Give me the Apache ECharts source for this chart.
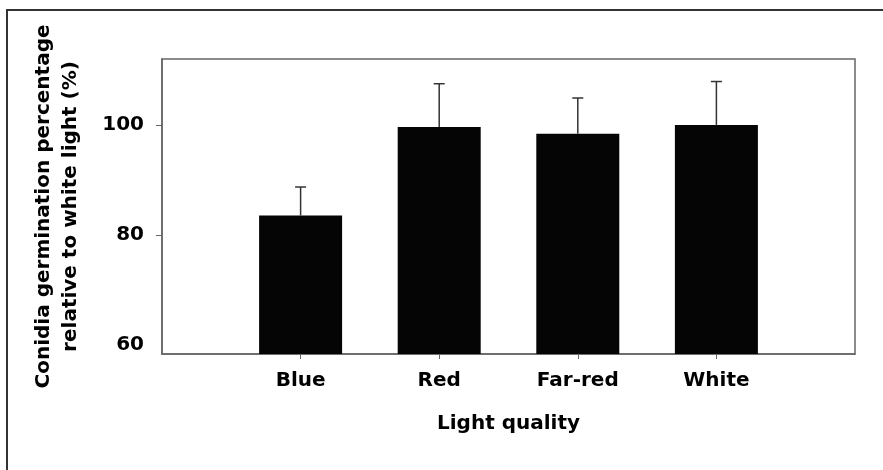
<!DOCTYPE html>
<html>
<head>
<meta charset="utf-8">
<script src="https://cdn.jsdelivr.net/npm/echarts@6/dist/echarts.min.js"></script>
<style>
  html, body { margin: 0; padding: 0; background: #fff; }
  #chart { width: 883px; height: 470px; }
</style>
</head>
<body>
<div id="chart"></div>
<script>
// Light treatments and germination relative to white light (%)
const categories = ['Blue', 'Red', 'Far-red', 'White'];
const germination = [83.5, 99.6, 98.4, 100.0];
const errors = [5.2, 7.9, 6.5, 7.9];
const yTickLabels = [60, 80, 100];
const yTickMarks = [80, 100];

// Pad the category axis with empty slots so bars sit one step in from each edge
const axisCategories = [''].concat(categories, ['']);
const barData = [null].concat(germination, [null]);
const errorData = categories.map((c, i) => [i + 1, germination[i], germination[i] + errors[i]]);

const FONT = 'DejaVu Sans';
const TEXT = '#000';
const chart = echarts.init(document.getElementById('chart'), null, { renderer: 'canvas' });

chart.setOption({
  animation: false,
  backgroundColor: '#fff',
  graphic: [{
    type: 'rect',
    shape: { x: 7, y: 10, width: 900, height: 500 },
    style: { fill: 'none', stroke: '#333', lineWidth: 2 },
    silent: true
  }],
  grid: {
    left: 162, top: 59, right: 28, bottom: 116,
    show: true, borderColor: '#666', borderWidth: 1.5, backgroundColor: 'transparent'
  },
  xAxis: {
    type: 'category',
    data: axisCategories,
    boundaryGap: false,
    name: 'Light quality',
    nameLocation: 'middle',
    nameGap: 60,
    nameTextStyle: { fontFamily: FONT, fontWeight: 'bold', fontSize: 20, color: TEXT },
    axisLine: { show: true, lineStyle: { color: '#666', width: 1.5 } },
    axisTick: {
      show: true, length: 5, lineStyle: { color: '#666' },
      interval: (i) => i > 0 && i < axisCategories.length - 1
    },
    axisLabel: {
      interval: (i) => i > 0 && i < axisCategories.length - 1,
      fontFamily: FONT, fontWeight: 'bold', fontSize: 20, color: TEXT, margin: 17
    },
    splitLine: { show: false }
  },
  yAxis: {
    type: 'value',
    min: 58.3,
    max: 112,
    name: 'Conidia germination percentage\nrelative to white light (%)',
    nameLocation: 'middle',
    nameGap: 78,
    nameTextStyle: { fontFamily: FONT, fontWeight: 'bold', fontSize: 20, lineHeight: 27, color: TEXT },
    axisLine: { show: true, lineStyle: { color: '#666', width: 1.5 } },
    axisTick: { show: true, length: 6, lineStyle: { color: '#666' }, customValues: yTickMarks },
    axisLabel: {
      customValues: yTickLabels,
      fontFamily: FONT, fontWeight: 'bold', fontSize: 20, color: TEXT, margin: 18
    },
    splitLine: { show: false }
  },
  series: [
    {
      type: 'bar',
      data: barData,
      barWidth: 83,
      itemStyle: { color: '#050505' },
      z: 2
    },
    {
      type: 'custom',
      data: errorData,
      z: 3,
      renderItem: (params, api) => {
        const x = api.value(0);
        const base = api.coord([x, api.value(1)]);
        const top = api.coord([x, api.value(2)]);
        const half = 5.5;
        const style = { stroke: '#333', lineWidth: 1.5 };
        return {
          type: 'group',
          children: [
            { type: 'line', shape: { x1: base[0], y1: base[1], x2: top[0], y2: top[1] }, style },
            { type: 'line', shape: { x1: top[0] - half, y1: top[1], x2: top[0] + half, y2: top[1] }, style }
          ]
        };
      }
    }
  ]
});
</script>
</body>
</html>
